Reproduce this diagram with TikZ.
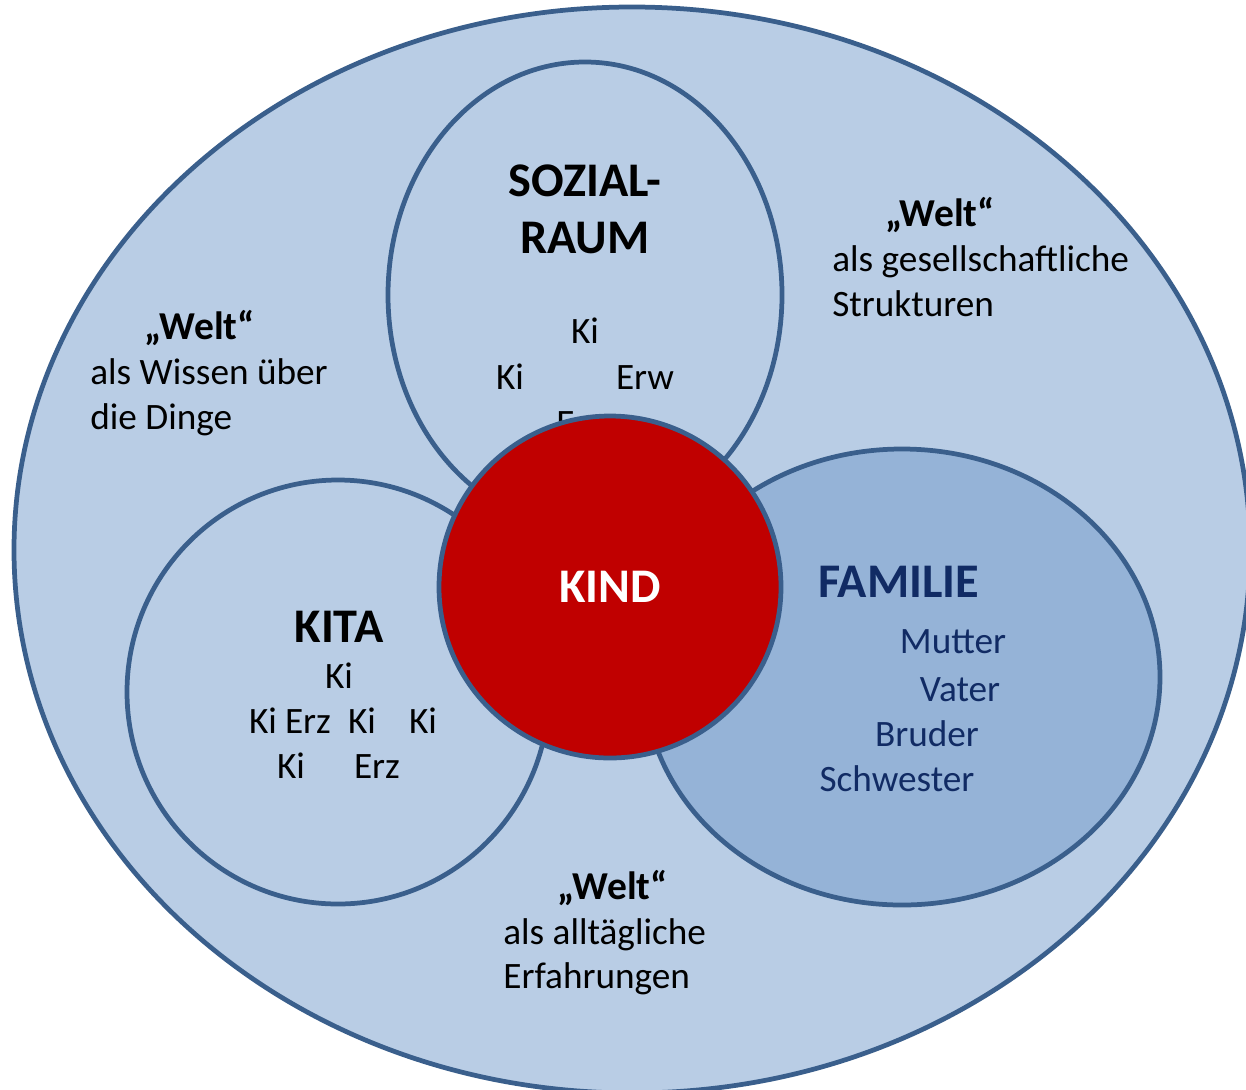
\documentclass[tikz,border=0pt]{standalone}
\usepackage{fontspec}
\setmainfont{Carlito}
\usetikzlibrary{shapes.geometric}
\definecolor{lightbg}{HTML}{B9CDE5}
\definecolor{rim}{HTML}{3A5F8C}
\definecolor{famfill}{HTML}{95B3D7}
\definecolor{kindred}{HTML}{C00000}
\definecolor{navy}{HTML}{112B64}
\tikzset{
  area/.style={draw=rim, line width=0.095cm, fill=lightbg, inner sep=0pt, outer sep=0pt},
  body/.style={font=\fontsize{21.2}{25}\selectfont, inner sep=0pt, anchor=base},
  bodyl/.style={body, anchor=base west},
  welt/.style={body, font=\fontsize{22.5}{27}\selectfont\bfseries},
  title/.style={font=\fontsize{27.5}{33}\selectfont\bfseries, inner sep=0pt, anchor=base},
  famtxt/.style={body, text=navy},
}
\begin{document}
\begin{tikzpicture}[x=0.02cm,y=-0.02cm]
\useasboundingbox (0,0) rectangle (1246,1089);
\clip (0,0) rectangle (1246,1089);
\node[area, ellipse, minimum width=1236*0.02cm, minimum height=1086*0.02cm] (welt) at (632,550) {};
% Sozialraum
\node[area, ellipse, minimum width=394*0.02cm, minimum height=466*0.02cm] (sozial) at (585,295) {};
\node[title] (s1) at (585,196) {SOZIAL-};
\node[title] (s2) at (585,253) {RAUM};
\node[body] (s3) at (585,343) {Ki};
\node[body] (s4) at (510,389) {Ki};
\node[body] (s5) at (645,389) {Erw};
\node[bodyl] (s6) at (556,435) {Erw};
% Welt texts
\node[welt] (w1) at (940,226) {„Welt“};
\node[bodyl] (w1a) at (832,271) {als gesellschaftliche};
\node[bodyl] (w1b) at (832,316) {Strukturen};
\node[welt] (w2) at (200,339) {„Welt“};
\node[bodyl] (w2a) at (90,384) {als Wissen über};
\node[bodyl] (w2b) at (90,429) {die Dinge};
\node[welt] (w3) at (613,899) {„Welt“};
\node[bodyl] (w3a) at (503,944) {als alltägliche};
\node[bodyl] (w3b) at (503,988) {Erfahrungen};
% Kita
\node[area, ellipse, minimum width=422*0.02cm, minimum height=424*0.02cm] (kita) at (338,692) {};
\node[title] (k0) at (339,642) {KITA};
\node[body] (k1) at (339,688) {Ki};
\node[body] (k2) at (263,733) {Ki};
\node[body] (k3) at (308,733) {Erz};
\node[body] (k4) at (362,733) {Ki};
\node[body] (k5) at (423,733) {Ki};
\node[body] (k6) at (291,778) {Ki};
\node[body] (k7) at (377,778) {Erz};
% Familie
\node[area, fill=famfill, ellipse, minimum width=516*0.02cm, minimum height=456*0.02cm] (familie) at (902,677) {};
\node[title, anchor=base west, text=navy] (f0) at (818,597) {FAMILIE};
\node[famtxt] (f1) at (953,653) {Mutter};
\node[famtxt] (f2) at (960,701) {Vater};
\node[famtxt] (f3) at (927,746) {Bruder};
\node[famtxt] (f4) at (897,791) {Schwester};
% Kind
\node[area, fill=kindred, circle, minimum size=342*0.02cm] (kind) at (610,587) {};
\node[title, text=white] (kt) at (610,602) {KIND};
\end{tikzpicture}
\end{document}
